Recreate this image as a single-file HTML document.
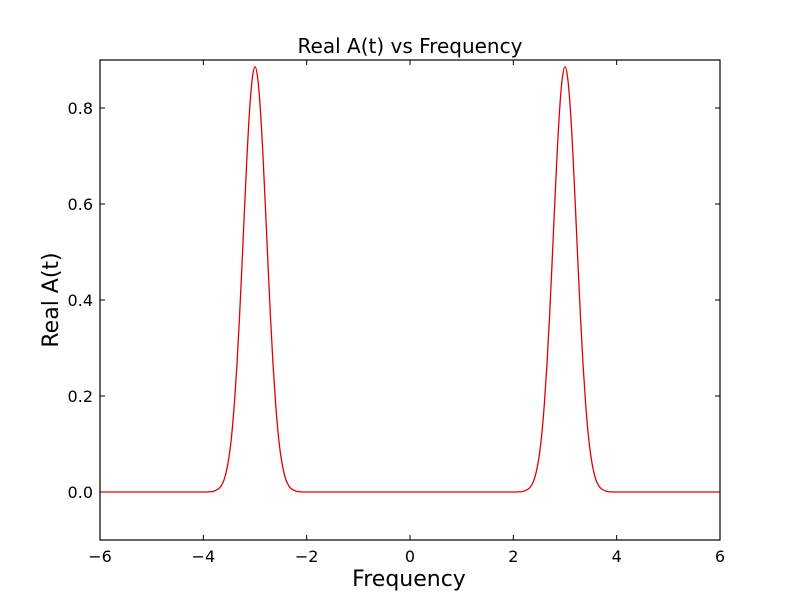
<!DOCTYPE html>
<html><head><meta charset="utf-8"><style>
body{margin:0;background:#fff}
svg text{font-family:"DejaVu Sans","Liberation Sans",sans-serif;fill:#000}
</style></head><body>
<svg id="chart" width="800" height="600" viewBox="0 0 800 600">
<rect width="800" height="600" fill="#fff"/>
<text x="410" y="53" font-size="20" text-anchor="middle">Real A(t) vs Frequency</text>
<text x="409" y="586" font-size="22" text-anchor="middle">Frequency</text>
<text transform="translate(58,300) rotate(-90)" font-size="22" text-anchor="middle">Real A(t)</text>
<g id="ticks"></g>
<path id="line" fill="none" stroke="#e00000" stroke-width="1.3"/>
<rect x="100" y="60" width="620" height="480" fill="none" stroke="#000" stroke-width="1.2"/>
</svg>
<script>
const xTicks=[-6,-4,-2,0,2,4,6];
const xTickLabels=["\u22126","\u22124","\u22122","0","2","4","6"];
const yTicks=[0,0.2,0.4,0.6,0.8];
const yTickLabels=["0.0","0.2","0.4","0.6","0.8"];
const freq=[-6,-4,-3.9,-3.8,-3.7,-3.65,-3.6,-3.55,-3.5,-3.45,-3.4,-3.35,-3.3,-3.25,-3.2,-3.15,-3.1,-3.05,-3,-2.95,-2.9,-2.85,-2.8,-2.75,-2.7,-2.65,-2.6,-2.55,-2.5,-2.45,-2.4,-2.35,-2.3,-2.2,-2.1,-2,2,2.1,2.2,2.3,2.35,2.4,2.45,2.5,2.55,2.6,2.65,2.7,2.75,2.8,2.85,2.9,2.95,3,3.05,3.1,3.15,3.2,3.25,3.3,3.35,3.4,3.45,3.5,3.55,3.6,3.65,3.7,3.8,3.9,4,6];
const realA=[0,0,0.0003,0.0016,0.007,0.0137,0.025,0.045,0.075,0.12,0.183,0.264,0.364,0.478,0.597,0.71,0.803,0.864,0.886,0.864,0.803,0.71,0.597,0.478,0.364,0.264,0.183,0.12,0.075,0.045,0.025,0.0137,0.007,0.0016,0.0003,0,0,0.0003,0.0016,0.007,0.0137,0.025,0.045,0.075,0.12,0.183,0.264,0.364,0.478,0.597,0.71,0.803,0.864,0.886,0.864,0.803,0.71,0.597,0.478,0.364,0.264,0.183,0.12,0.075,0.045,0.025,0.0137,0.007,0.0016,0.0003,0,0];
const X=v=>100+(v+6)/12*620;
const Y=v=>540-(v+0.1)/1.0*480;
const NS="http://www.w3.org/2000/svg";
const g=document.getElementById('ticks');
function mk(tag,attrs){const e=document.createElementNS(NS,tag);for(const k in attrs)e.setAttribute(k,attrs[k]);g.appendChild(e);return e;}
xTicks.forEach((t,i)=>{
  const x=X(t);
  const a=mk('line',{x1:x,x2:x,y1:540,y2:535,stroke:'#000'});
  
  
  const b=mk('line',{x1:x,x2:x,y1:60,y2:65,stroke:'#000'});
  
  
  const tx=mk('text',{x:x,y:562,'font-size':16,'text-anchor':'middle'});
  tx.textContent=xTickLabels[i];
  
  
});
yTicks.forEach((t,i)=>{
  const y=Y(t);
  const a=mk('line',{x1:100,x2:105,y1:y,y2:y,stroke:'#000'});
  
  
  const b=mk('line',{x1:715,x2:720,y1:y,y2:y,stroke:'#000'});
  
  
  const tx=mk('text',{x:93,y:y+6,'font-size':16,'text-anchor':'end'});
  tx.textContent=yTickLabels[i];
  
  
});
const pts=freq.map((f,i)=>[X(f),Y(realA[i])]);
let d='M'+pts[0][0]+','+pts[0][1];
for(let i=0;i<pts.length-1;i++){
  const p1=pts[i],p2=pts[i+1];
  if(p2[0]-p1[0]>20){d+=` L${p2[0]},${p2[1]}`;continue;}
  const p0=(i>0&&p1[0]-pts[i-1][0]<=20)?pts[i-1]:p1;
  const p3=(i+2<pts.length&&pts[i+2][0]-p2[0]<=20)?pts[i+2]:p2;
  const c1=[p1[0]+(p2[0]-p0[0])/6,p1[1]+(p2[1]-p0[1])/6];
  const c2=[p2[0]-(p3[0]-p1[0])/6,p2[1]-(p3[1]-p1[1])/6];
  d+=` C${c1[0]},${c1[1]} ${c2[0]},${c2[1]} ${p2[0]},${p2[1]}`;
}
document.getElementById('line').setAttribute('d',d);
</script>
</body></html>
